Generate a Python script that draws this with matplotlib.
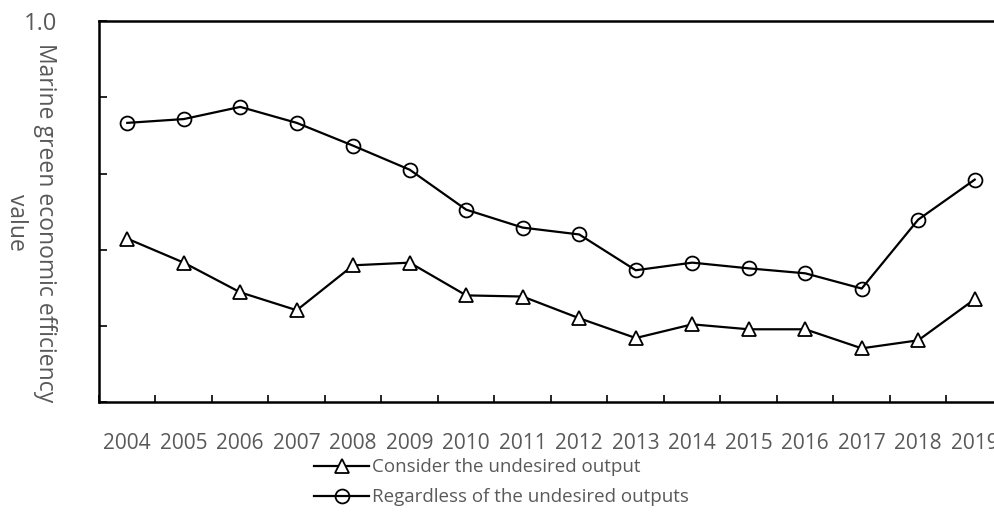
import matplotlib.pyplot as plt
import numpy as np

plt.rcParams['font.family'] = ['Open Sans', 'DejaVu Sans']

# data
years = ['2004', '2005', '2006', '2007', '2008', '2009', '2010', '2011',
         '2012', '2013', '2014', '2015', '2016', '2017', '2018', '2019']
consider = [0.429, 0.366, 0.288, 0.241, 0.359, 0.366, 0.280, 0.277,
            0.220, 0.168, 0.204, 0.191, 0.191, 0.141, 0.162, 0.270]
regardless = [0.733, 0.743, 0.775, 0.733, 0.673, 0.610, 0.505, 0.458,
              0.440, 0.346, 0.366, 0.351, 0.338, 0.298, 0.479, 0.584]
legend_labels = ['Consider the undesired output', 'Regardless of the undesired outputs']
y_label = 'Marine green economic efficiency\nvalue'

grey = '#595959'
fig = plt.figure(figsize=(9.95, 5.16), dpi=100)
# axes runs past the right edge of the figure, as in the original
ax = fig.add_axes([0.0995, 0.2209, 0.9085, 0.738])

x = np.arange(len(years))
ax.plot(x, consider, color='black', lw=1.6, marker='^', markersize=10,
        markerfacecolor='white', markeredgecolor='black', markeredgewidth=1.3,
        label=legend_labels[0])
ax.plot(x, regardless, color='black', lw=1.6, marker='o', markersize=10,
        markerfacecolor='none', markeredgecolor='black', markeredgewidth=1.3,
        label=legend_labels[1])

ax.set_xlim(-0.5, len(years) - 0.5)
ax.set_ylim(0, 1.0)

# tick marks between categories, labels at category centres
ax.set_xticks(np.arange(len(years) + 1) - 0.5)
ax.set_xticklabels([])
ax.set_xticks(x, minor=True)
ax.set_xticklabels(years, minor=True)
ax.tick_params(axis='x', which='major', direction='in', length=5, width=1.2)
ax.tick_params(axis='x', which='minor', length=0, pad=22, labelsize=15, labelcolor=grey)

ax.set_yticks([0, 0.2, 0.4, 0.6, 0.8, 1.0])
ax.set_yticklabels(['', '', '', '', '', '1.0'])
ax.tick_params(axis='y', direction='in', length=6, width=1.2, pad=30,
               labelsize=17, labelcolor=grey)

for s in ['left', 'bottom', 'top']:
    ax.spines[s].set_linewidth(1.8)
ax.spines['right'].set_visible(False)

ax.set_ylabel(y_label, rotation=-90, fontsize=16.5, color=grey,
              linespacing=1.25, labelpad=0, va='center', ha='center')
ax.yaxis.set_label_coords(-0.076, 0.472)

fig.legend(loc='upper left', bbox_to_anchor=(0.316, 0.112), frameon=False,
           fontsize=13.5, labelcolor=grey, handlelength=2.9, handletextpad=0.15,
           borderpad=0, borderaxespad=0, labelspacing=0.65)

plt.savefig('out.png', dpi=100)
